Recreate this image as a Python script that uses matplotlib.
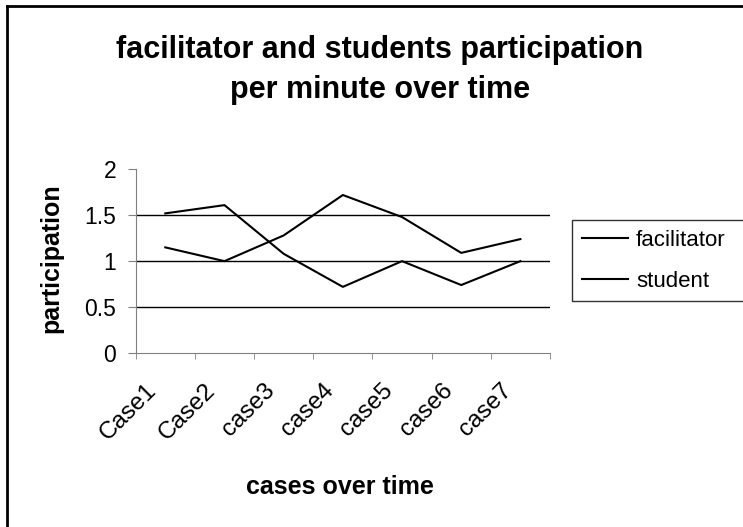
import matplotlib
matplotlib.use("Agg")
import matplotlib.pyplot as plt
import matplotlib.transforms as mtransforms
import numpy as np

plt.rcParams["font.family"] = ["Liberation Sans", "DejaVu Sans"]

# data
cases = ["Case1", "Case2", "case3", "case4", "case5", "case6", "case7"]
facilitator = [1.52, 1.61, 1.08, 0.72, 1.00, 0.74, 1.00]
student = [1.15, 1.00, 1.28, 1.72, 1.48, 1.09, 1.24]
y_ticks = [0, 0.5, 1, 1.5, 2]

W, H = 743, 527
fig = plt.figure(figsize=(W / 100, H / 100), dpi=100)
ax = fig.add_axes([135.7 / W, 1 - 353 / H, (550 - 135.7) / W, (353 - 169.3) / H])

x = np.arange(len(cases))
ax.plot(x, facilitator, color="black", lw=1.5, label="facilitator")
ax.plot(x, student, color="black", lw=1.5, label="student")

ax.set_xlim(-0.5, len(cases) - 0.5)
ax.set_ylim(0, 2)
ax.set_yticks(y_ticks)
ax.set_yticklabels(["0", "0.5", "1", "1.5", "2"], fontsize=16.5)
for v in y_ticks[1:-1]:
    ax.axhline(v, color="black", lw=1, zorder=0)

# category labels at centres, ticks at the boundaries
ax.set_xticks(x)
ax.set_xticklabels(cases, fontsize=17.5, rotation=45, ha="right", va="top",
                   rotation_mode="anchor")
ax.tick_params(axis="x", which="major", length=0, pad=19)
ax.set_xticks(np.arange(len(cases) + 1) - 0.5, minor=True)
ax.tick_params(axis="x", which="minor", length=4.5, color="#808080")
ax.tick_params(axis="y", length=6, color="#808080", pad=8)
off = mtransforms.ScaledTranslation(-0.2, 0, fig.dpi_scale_trans)
for lab in ax.get_xticklabels():
    lab.set_transform(lab.get_transform() + off)

for s in ["top", "right"]:
    ax.spines[s].set_visible(False)
ax.spines["left"].set_color("#808080")
ax.spines["bottom"].set_color("#808080")

fig.text(51 / W, 1 - 258 / H, "participation", rotation=90, fontsize=18,
         fontweight="bold", ha="center", va="center")
fig.text(340 / W, 1 - 487 / H, "cases over time", fontsize=18,
         fontweight="bold", ha="center", va="center")
fig.text(380 / W, 1 - 58 / H, "facilitator and students participation",
         fontsize=22, fontweight="bold", ha="center", va="baseline")
fig.text(380 / W, 1 - 98 / H, "per minute over time",
         fontsize=22, fontweight="bold", ha="center", va="baseline")

leg = fig.legend(loc="upper left", bbox_to_anchor=(572 / W, 1 - 303 / H, 0.3, 83 / H),
                 mode="expand", fontsize=16, frameon=True, fancybox=False,
                 borderaxespad=0, handlelength=2.1, handletextpad=0.35,
                 labelspacing=0.9, borderpad=0.43)
leg.get_frame().set_edgecolor("black")
leg.get_frame().set_linewidth(1)

# outer chart frame (only the top and left edges are in the crop)
fig.add_artist(plt.Line2D([7 / W, 7 / W], [0, 1 - 6 / H], color="black", lw=2,
                          transform=fig.transFigure))
fig.add_artist(plt.Line2D([7 / W, 1], [1 - 6 / H, 1 - 6 / H], color="black", lw=2,
                          transform=fig.transFigure))

fig.savefig("out.png", dpi=100)
